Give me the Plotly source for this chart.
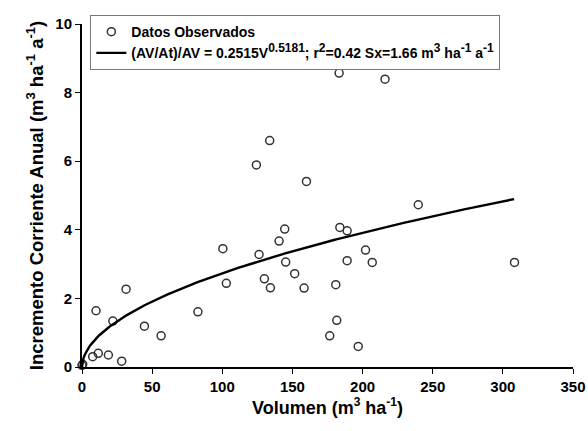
import numpy as np
import plotly.graph_objects as go

# Observed data (Volumen, Incremento Corriente Anual)
vol = [0, 0.5, 7.6, 11.6, 18.8, 28.3, 10.0, 22.0, 31.4, 44.5, 56.4, 82.6,
       100.4, 102.9, 124.3, 133.8, 160.0, 126.2, 130.0, 134.3, 140.5, 144.5,
       145.2, 151.6, 158.3, 183.3, 216.0, 239.7, 183.8, 189.0, 202.1, 189.0,
       206.9, 308.3, 180.9, 181.6, 176.6, 196.9]
ica = [0.05, 0.08, 0.30, 0.40, 0.35, 0.17, 1.64, 1.34, 2.27, 1.19, 0.91, 1.61,
       3.45, 2.44, 5.89, 6.60, 5.41, 3.28, 2.57, 2.31, 3.67, 4.02,
       3.06, 2.72, 2.30, 8.57, 8.39, 4.73, 4.07, 3.97, 3.41, 3.10,
       3.05, 3.05, 2.40, 1.36, 0.91, 0.60]

# Fitted model from the legend
coef_a = 0.2515
coef_b = 0.5181
fit_x = np.linspace(0, 308, 300)
fit_y = coef_a * fit_x ** coef_b

x_ticks = [0, 50, 100, 150, 200, 250, 300, 350]
y_ticks = [0, 2, 4, 6, 8, 10]

font_family = "Liberation Sans, Arial, sans-serif"


def sup(t, size=None):
    if size:
        return f"<sup><span style='font-size:{size}px'>{t}</span></sup>"
    return f"<sup>{t}</sup>"


fig = go.Figure()
fig.add_trace(go.Scatter(
    x=vol, y=ica, mode="markers", name="<b>Datos Observados</b>",
    marker=dict(symbol="circle-open", size=8, color="#333333",
                line=dict(width=1.5, color="#333333")),
    cliponaxis=False,
))
fig.add_trace(go.Scatter(
    x=fit_x, y=fit_y, mode="lines",
    name=("<b>(AV/At)/AV = 0.2515V" + sup("0.5181", 12) + "; r" + sup("2", 12)
          + "=0.42 Sx=1.66 m" + sup("3", 12) + " ha" + sup("-1", 12)
          + " a" + sup("-1", 12) + "</b>"),
    line=dict(color="black", width=2.4),
    cliponaxis=False,
))

axis_common = dict(
    showline=True, linecolor="black", linewidth=2,
    ticks="outside", ticklen=5, tickwidth=1.2, tickcolor="black",
    showgrid=False, zeroline=False, mirror=False,
    tickfont=dict(family=font_family, size=15, color="black", weight="bold"),
)

fig.update_layout(
    width=588, height=431,
    margin=dict(l=82, r=15, t=24, b=64, autoexpand=False),
    paper_bgcolor="white", plot_bgcolor="white",
    font=dict(family=font_family, color="black"),
    xaxis=dict(range=[0, 350], tickvals=x_ticks, automargin=False,
               title=dict(text="<b>Volumen (m" + sup("3", 12) + " ha" + sup("-1", 12) + ")</b>",
                          font=dict(size=18), standoff=6),
               **axis_common),
    yaxis=dict(range=[0, 10], tickvals=y_ticks, automargin=False,
               title=dict(text="<b>Incremento Corriente Anual (m" + sup("3", 13) + " ha"
                               + sup("-1", 13) + " a" + sup("-1", 13) + ")</b>",
                          font=dict(size=18.5), standoff=7),
               **axis_common),
    legend=dict(x=0.017, y=1.026, xanchor="left", yanchor="top",
                bgcolor="white", bordercolor="#777777", borderwidth=1,
                font=dict(family=font_family, size=14, color="black"),
                tracegroupgap=0, itemwidth=30),
    showlegend=True,
)

fig.write_html("out.html", config={"displayModeBar": False},
               post_script="document.body.style.margin='0';document.body.style.padding='0';")
